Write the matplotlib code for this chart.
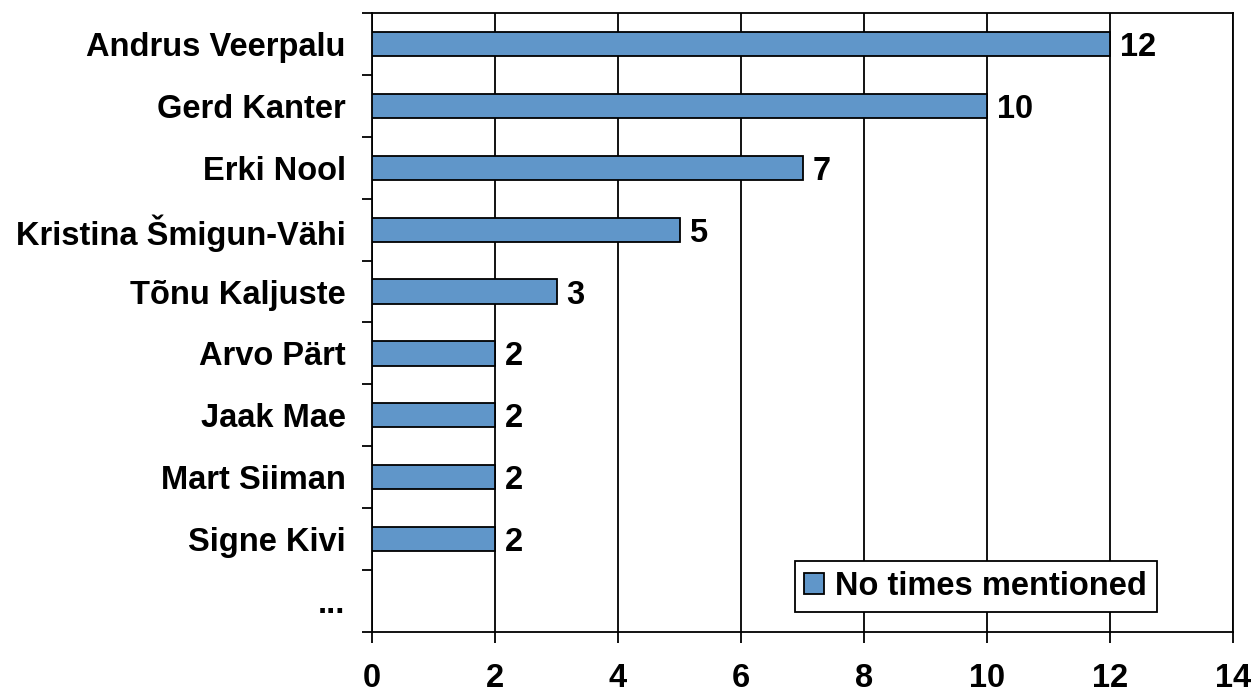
import matplotlib
matplotlib.use('Agg')
import matplotlib.pyplot as plt
import numpy as np

names = ['Andrus Veerpalu', 'Gerd Kanter', 'Erki Nool', 'Kristina Šmigun-Vähi',
         'Tõnu Kaljuste', 'Arvo Pärt', 'Jaak Mae', 'Mart Siiman', 'Signe Kivi', '...']
mentions = [12, 10, 7, 5, 3, 2, 2, 2, 2, np.nan]
series_label = 'No times mentioned'
x_ticks = [0, 2, 4, 6, 8, 10, 12, 14]

plt.rcParams['font.family'] = ['Liberation Sans', 'DejaVu Sans']
plt.rcParams['font.weight'] = 'bold'
fs = 23.5

fig = plt.figure(figsize=(12.55, 6.93), dpi=100)
ax = fig.add_axes([372 / 1255, 61 / 693, 861 / 1255, 619 / 693])

y = np.arange(len(names))
bars = ax.barh(y, mentions, height=0.39, color='#6096C9', edgecolor='black',
               linewidth=1.3, label=series_label, zorder=3)

for yi, v in zip(y, mentions):
    if np.isnan(v):
        continue
    ax.annotate(str(int(v)), (v, yi), xytext=(7, 0), textcoords='offset points',
                va='center_baseline', ha='left', fontsize=fs, fontweight='bold')

ax.set_xlim(0, 14)
ax.set_ylim(len(names) - 0.5, -0.5)
ax.set_xticks(x_ticks)
ax.set_xticklabels([str(t) for t in x_ticks], fontsize=fs, fontweight='bold')
ax.set_yticks(y)
ax.set_yticklabels(names, fontsize=fs, fontweight='bold')
# ticks on category boundaries, labels centered
ax.set_yticks(np.arange(len(names) + 1) - 0.5, minor=True)
ax.tick_params(axis='y', which='major', length=0, pad=19)
ax.tick_params(axis='y', which='minor', length=7.5, width=1.3, direction='out')
ax.tick_params(axis='x', which='major', length=8, width=1.3, direction='out', pad=14)

ax.grid(axis='x', color='black', linewidth=1.3, zorder=0)
for s in ax.spines.values():
    s.set_linewidth(1.3)
    s.set_color('black')

leg = ax.legend(loc='lower right', bbox_to_anchor=(0.9117, 0.0323), borderaxespad=0,
                prop={'size': fs, 'weight': 'bold'}, fancybox=False, framealpha=1,
                edgecolor='black', handlelength=0.6, handleheight=0.6,
                handletextpad=0.35, borderpad=0.3)
leg.get_frame().set_linewidth(1.3)

fig.savefig('out.png', dpi=100)
